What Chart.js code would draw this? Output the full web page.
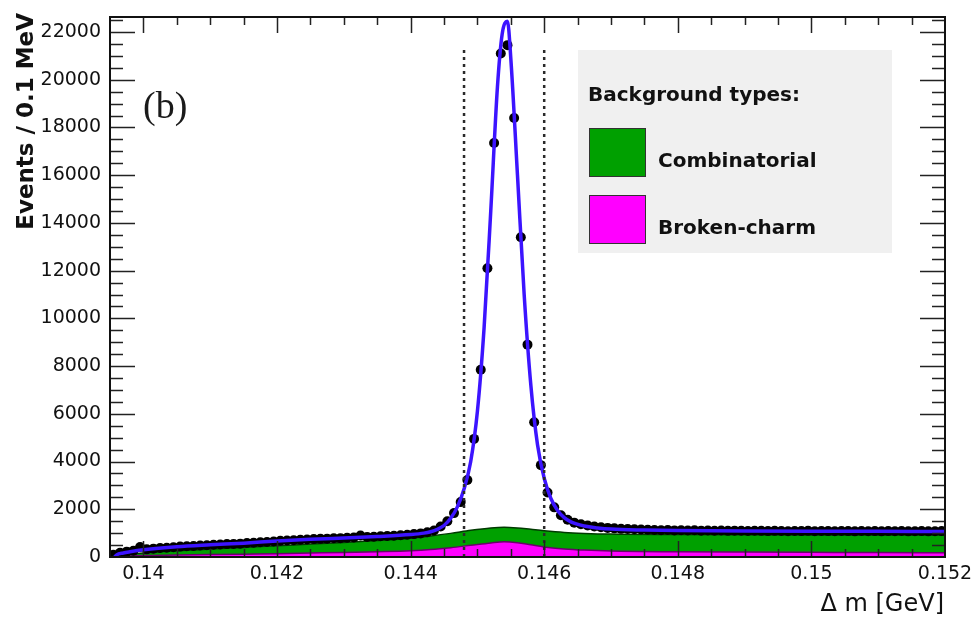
<!DOCTYPE html>
<html>
<head>
<meta charset="utf-8">
<script src="https://cdn.jsdelivr.net/npm/chart.js@4/dist/chart.umd.min.js"></script>
<style>html,body{margin:0;padding:0;background:#fff;}canvas{display:block;}</style>
</head>
<body>
<canvas id="c" width="973" height="618"></canvas>
<script>
// ---- data ----
const binStart = 0.1395;      // GeV, lower edge of first bin
const binWidth = 0.0001;      // GeV (0.1 MeV)
const eventCounts = [
  90, 180, 225, 260, 420, 320, 350, 375, 390, 410,
  435, 450, 460, 480, 490, 515, 525, 540, 550, 560,
  590, 600, 615, 625, 650, 680, 690, 705, 720, 730,
  750, 760, 770, 785, 790, 810, 820, 900, 835, 850,
  870, 880, 890, 910, 930, 960, 990, 1040, 1110, 1280,
  1500, 1840, 2300, 3230, 4950, 7850, 12100, 17350, 21100, 21450,
  18400, 13400, 8900, 5650, 3850, 2700, 2080, 1750, 1560, 1440,
  1370, 1320, 1280, 1250, 1220, 1200, 1180, 1170, 1160, 1150,
  1140, 1135, 1120, 1130, 1115, 1120, 1110, 1120, 1105, 1110,
  1100, 1110, 1095, 1105, 1100, 1090, 1100, 1095, 1085, 1095,
  1090, 1080, 1090, 1085, 1095, 1080, 1090, 1085, 1080, 1090,
  1085, 1075, 1090, 1080, 1085, 1075, 1085, 1080, 1090, 1075,
  1080, 1085, 1075, 1080, 1085
];
const fitX = [0.13957, 0.1396, 0.1397, 0.1398, 0.1400, 0.1405, 0.1410, 0.1415, 0.1420, 0.1425,
  0.1430, 0.1435, 0.1440, 0.1442, 0.1443, 0.1444, 0.1445, 0.1446, 0.1447, 0.1448,
  0.1449, 0.1450, 0.1451, 0.1452, 0.1453, 0.14537, 0.14545, 0.1455, 0.1456, 0.1457,
  0.1458, 0.1459, 0.1460, 0.1461, 0.1462, 0.1463, 0.1464, 0.1466, 0.1468, 0.1470,
  0.1475, 0.1480, 0.1490, 0.1500, 0.1510, 0.1520];
const fitTotal = [0, 90, 170, 220, 300, 430, 510, 580, 670, 740,
  800, 860, 940, 1000, 1060, 1160, 1320, 1620, 2100, 2850,
  4000, 6100, 9600, 14500, 19700, 21900, 22450, 20900, 16000, 11000,
  7200, 4700, 3300, 2450, 1950, 1650, 1470, 1300, 1220, 1170,
  1130, 1110, 1090, 1080, 1075, 1070];
const bgX = [0.13957, 0.1396, 0.1397, 0.1398, 0.1400, 0.1405, 0.1410, 0.1415, 0.1420, 0.1425,
  0.1430, 0.1435, 0.1440, 0.1443, 0.1446, 0.1449, 0.1452, 0.1454, 0.1456, 0.1458,
  0.1460, 0.1463, 0.1466, 0.1470, 0.1480, 0.1490, 0.1500, 0.1510, 0.1520];
const combinatorialStacked = [0, 40, 90, 120, 170, 260, 330, 400, 470, 540,
  610, 690, 790, 880, 990, 1120, 1220, 1250, 1220, 1160,
  1100, 1030, 990, 960, 940, 930, 925, 920, 920];
const brokenCharm = [0, 10, 25, 40, 60, 80, 100, 120, 140, 165,
  190, 220, 260, 310, 390, 490, 590, 640, 600, 510,
  420, 340, 290, 250, 220, 205, 195, 185, 180];
const signalWindow = [0.1448, 0.1460];
const signalWindowTop = 21400;
const xTickValues = [0.14, 0.142, 0.144, 0.146, 0.148, 0.15, 0.152];
const xTickLabels = ['0.14', '0.142', '0.144', '0.146', '0.148', '0.15', '0.152'];
const yTickValues = [0, 2000, 4000, 6000, 8000, 10000, 12000, 14000, 16000, 18000, 20000, 22000];
const yTickLabels = ['0', '2000', '4000', '6000', '8000', '10000', '12000', '14000', '16000', '18000', '20000', '22000'];
const legendTitle = 'Background types:';
const legendNames = ['Combinatorial', 'Broken-charm'];
const legendColors = ['#00a000', '#ff00ff'];
const panelLabel = '(b)';
const xTitle = 'Δ m [GeV]';
const yTitle = 'Events / 0.1 MeV';
const X_MIN = 0.1395, X_MAX = 0.152, Y_MIN = 0, Y_MAX = 22630;

// ---- build datasets ----
const dataPoints = eventCounts.map((v, i) => ({ x: binStart + binWidth * (i + 0.5), y: v }));
const fitPoints = fitX.map((x, i) => ({ x, y: fitTotal[i] }));
const combPoints = bgX.map((x, i) => ({ x, y: combinatorialStacked[i] }));
const bcPoints = bgX.map((x, i) => ({ x, y: brokenCharm[i] }));

const framePlugin = {
  id: 'rootFrame',
  afterDatasetsDraw(chart) {
    const c = chart.ctx;
    const { left, right, top, bottom } = chart.chartArea;
    const xs = chart.scales.x, ys = chart.scales.y;
    c.save();
    // inner ticks
    c.strokeStyle = '#222';
    c.lineWidth = 1.5;
    c.beginPath();
    for (let n = Math.ceil(X_MIN / 0.0005 - 1e-6); n * 0.0005 <= X_MAX + 1e-9; n++) {
      const px = Math.round(xs.getPixelForValue(n * 0.0005)) + 0.5;
      if (px <= left + 1 || px >= right - 1) continue;
      const len = (n % 4 === 0) ? 16 : 8;
      c.moveTo(px, top); c.lineTo(px, top + len);
      c.moveTo(px, bottom); c.lineTo(px, bottom - len);
    }
    for (let n = 1; n * 500 <= Y_MAX; n++) {
      const py = Math.round(ys.getPixelForValue(n * 500)) + 0.5;
      if (py <= top + 1) continue;
      const len = (n % 4 === 0) ? 25 : 13;
      c.moveTo(left, py); c.lineTo(left + len, py);
      c.moveTo(right, py); c.lineTo(right - len, py);
    }
    c.stroke();
    // frame
    c.lineWidth = 2;
    c.strokeStyle = '#111';
    c.strokeRect(left, top, right - left, bottom - top);
    // panel label
    c.fillStyle = '#1a1a1a';
    c.font = '38px "Liberation Serif"';
    c.textAlign = 'left';
    c.textBaseline = 'alphabetic';
    c.fillText(panelLabel, 143, 118);
    // legend
    c.fillStyle = '#f0f0f0';
    c.fillRect(578, 50, 314, 203);
    c.fillStyle = '#111';
    c.font = 'bold 20px "DejaVu Sans"';
    c.fillText(legendTitle, 588, 101);
    for (let k = 0; k < legendNames.length; k++) {
      const y0 = 128 + k * 67;
      c.fillStyle = legendColors[k];
      c.fillRect(589, y0, 57, 49);
      c.lineWidth = 1;
      c.strokeStyle = '#333';
      c.strokeRect(589.5, y0 + 0.5, 56, 48);
      c.fillStyle = '#111';
      c.fillText(legendNames[k], 658, y0 + 39);
    }
    // axis titles
    c.font = '24px "DejaVu Sans"';
    c.textAlign = 'right';
    c.fillText(xTitle, 944, 611);
    c.translate(33, 13);
    c.rotate(-Math.PI / 2);
    c.font = 'bold 23px "DejaVu Sans"';
    c.textAlign = 'right';
    c.fillText(yTitle, 0, 0);
    c.restore();
  }
};

new Chart(document.getElementById('c'), {
  type: 'scatter',
  data: {
    datasets: [
      { label: legendNames[0], type: 'line', data: combPoints, backgroundColor: legendColors[0],
        borderColor: '#003a00', borderWidth: 1.5, fill: 'origin', pointRadius: 0,
        cubicInterpolationMode: 'monotone', order: 6 },
      { label: legendNames[1], type: 'line', data: bcPoints, backgroundColor: legendColors[1],
        borderColor: '#6a006a', borderWidth: 1.5, fill: 'origin', pointRadius: 0,
        cubicInterpolationMode: 'monotone', order: 5 },
      { label: 'Data', data: dataPoints, pointRadius: 5, pointHoverRadius: 5,
        backgroundColor: '#000', borderColor: '#000', borderWidth: 0, order: 3 },
      { label: 'Fit', type: 'line', data: fitPoints, borderColor: '#3c14ff', borderWidth: 3.5,
        pointRadius: 0, fill: false, cubicInterpolationMode: 'monotone', order: 2 },
      { label: 'window-low', type: 'line',
        data: [{ x: signalWindow[0], y: 0 }, { x: signalWindow[0], y: signalWindowTop }],
        borderColor: '#2a2a2a', borderWidth: 2.5, borderDash: [3, 4], pointRadius: 0, fill: false, order: 1 },
      { label: 'window-high', type: 'line',
        data: [{ x: signalWindow[1], y: 0 }, { x: signalWindow[1], y: signalWindowTop }],
        borderColor: '#2a2a2a', borderWidth: 2.5, borderDash: [3, 4], pointRadius: 0, fill: false, order: 1 }
    ]
  },
  options: {
    responsive: false,
    animation: false,
    devicePixelRatio: 1,
    layout: { padding: { top: 17, right: 28, left: 0, bottom: 0 } },
    plugins: { legend: { display: false }, tooltip: { enabled: false } },
    scales: {
      x: {
        type: 'linear', min: X_MIN, max: X_MAX,
        grid: { display: false, drawTicks: false },
        border: { display: false },
        afterBuildTicks: s => { s.ticks = xTickValues.map(v => ({ value: v })); },
        afterFit: s => { s.height = 61; s.paddingLeft = 0; s.paddingRight = 0; },
        ticks: {
          padding: 6, color: '#111', maxRotation: 0, autoSkip: false,
          font: { family: 'DejaVu Sans', size: 19 },
          callback: v => { const k = xTickValues.findIndex(t => Math.abs(t - v) < 1e-9); return k >= 0 ? xTickLabels[k] : ''; }
        }
      },
      y: {
        type: 'linear', min: Y_MIN, max: Y_MAX,
        grid: { display: false, drawTicks: false },
        border: { display: false },
        afterBuildTicks: s => { s.ticks = yTickValues.map(v => ({ value: v })); },
        afterFit: s => { s.width = 110; s.paddingTop = 0; s.paddingBottom = 0; },
        ticks: {
          padding: 9, color: '#111', autoSkip: false,
          font: { family: 'DejaVu Sans', size: 19 },
          callback: v => { const k = yTickValues.indexOf(v); return k >= 0 ? yTickLabels[k] : ''; }
        }
      }
    }
  },
  plugins: [framePlugin]
});
</script>
</body>
</html>
